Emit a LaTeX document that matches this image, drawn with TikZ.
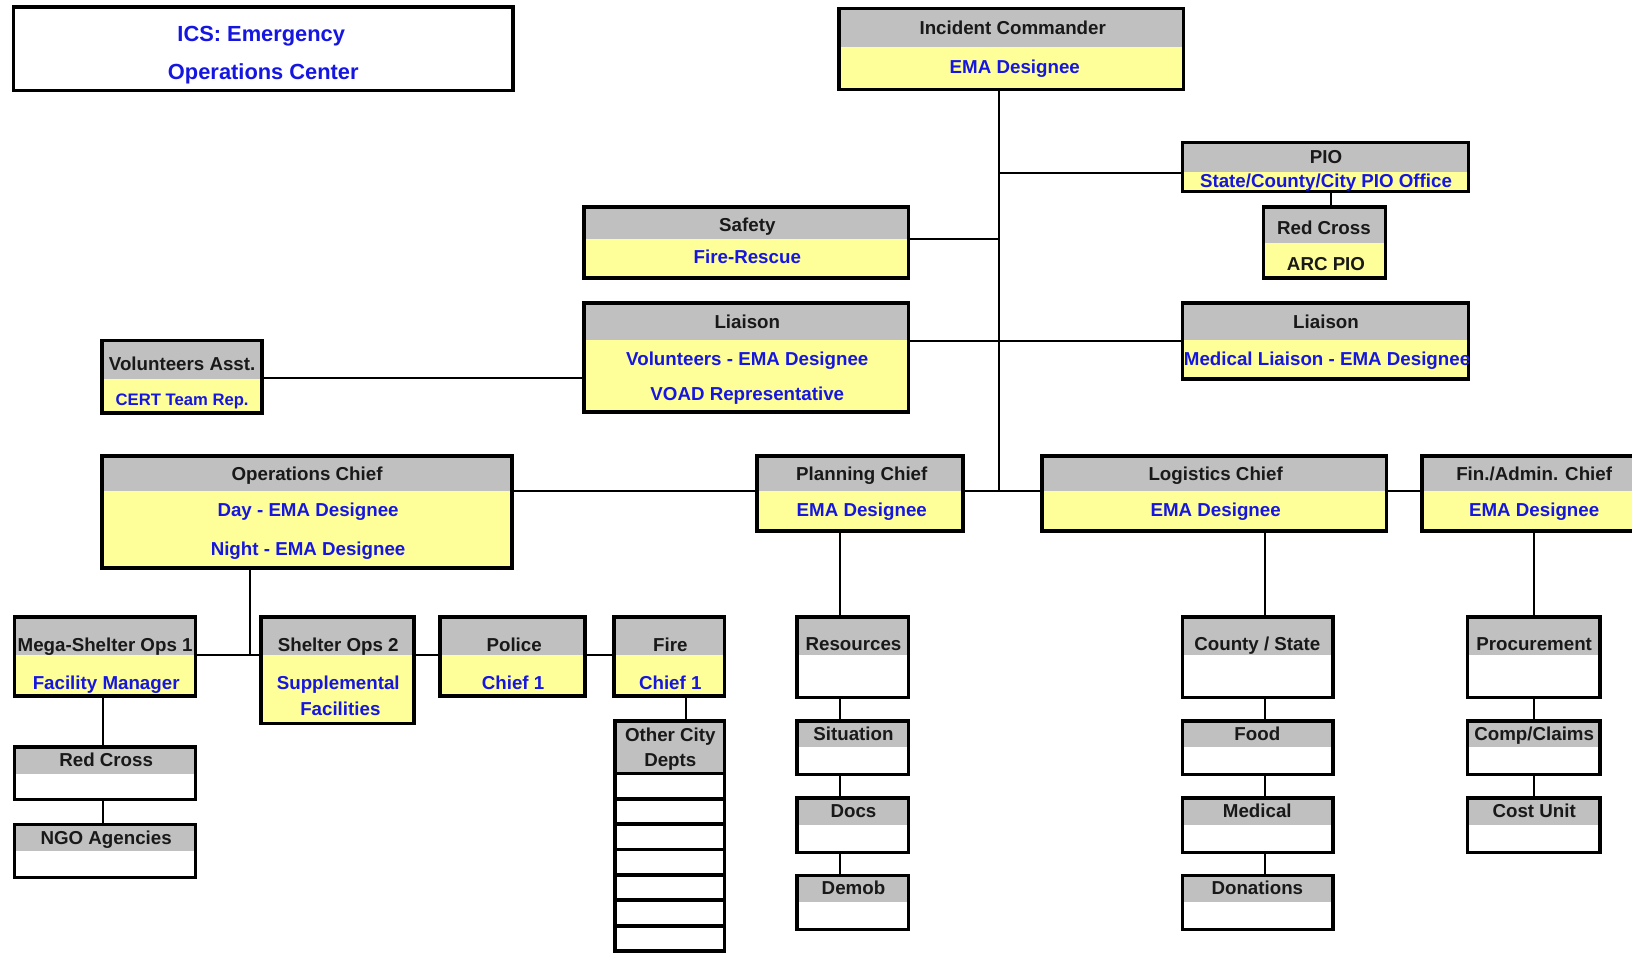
\documentclass[tikz,border=0pt]{standalone}
\usepackage{fontspec}
\setmainfont{Liberation Sans}
\definecolor{icsblue}{RGB}{22,22,225}
\definecolor{hdrgray}{RGB}{192,192,192}
\definecolor{paleyellow}{RGB}{255,255,153}
\definecolor{titleblack}{RGB}{25,25,25}
\tikzset{
  bx/.style={draw=black, line width=3.5pt, rectangle, inner sep=0pt},
  conn/.style={draw=black, line width=2pt},
  tt/.style={inner sep=0pt, text height=13pt, text depth=0pt, text=titleblack, font=\fontsize{18}{20}\selectfont\bfseries},
  bt/.style={tt, text=icsblue, font=\fontsize{18}{20}\selectfont\bfseries},
}
% name, x1, y1, x2, y2, split, lower fill
\newcommand\orgbox[7]{%
  \fill[hdrgray] (#2,-#3) rectangle (#4,-#6);
  \fill[#7] (#2,-#6) rectangle (#4,-#5);
  \node[bx, minimum width=#4-#2, minimum height=#5-#3] (#1) at ({(#2+#4)/2},{-(#3+#5)/2}) {};
}
\begin{document}
\begin{tikzpicture}[x=1pt,y=1pt]
\useasboundingbox (0,0) rectangle (1568,-916);
\clip (0,0) rectangle (1568,-916);
\fill[white] (0,0) rectangle (1568,-916);

% junction coordinates
\coordinate (trunk) at (960,-472);
\coordinate (jpio) at (960,-166);
\coordinate (jsafe) at (960,-230);
\coordinate (jlia) at (960,-328);
\coordinate (jvol) at (252,-363);
\coordinate (jops) at (240,-629);
\coordinate (xrcp) at (1279,0);
\coordinate (xmega) at (99,0);
\coordinate (xfire) at (659,0);
\coordinate (xplan) at (807,0);
\coordinate (xlog) at (1215,0);
\coordinate (xfin) at (1474,0);

% boxes
\node[bx, fill=white, minimum width=480, minimum height=80] (ics) at (253,-47) {};
\orgbox{ic}{806}{8}{1137}{86}{45}{paleyellow}
\orgbox{pio}{1136}{137}{1411}{184}{165}{paleyellow}
\orgbox{rcp}{1214}{199}{1331}{267}{233}{paleyellow}
\orgbox{safety}{561}{199}{873}{267}{230}{paleyellow}
\orgbox{liaL}{561}{291}{873}{396}{327}{paleyellow}
\orgbox{liaR}{1136}{291}{1411}{364}{327}{paleyellow}
\orgbox{vol}{98}{327}{252}{397}{364}{paleyellow}
\orgbox{ops}{98}{438}{492}{546}{472}{paleyellow}
\orgbox{plan}{727}{438}{925}{510}{472}{paleyellow}
\orgbox{log}{1001}{438}{1332}{510}{472}{paleyellow}
\orgbox{fin}{1366}{438}{1584}{510}{472}{paleyellow}
\orgbox{mega}{14}{593}{188}{669}{629}{paleyellow}
\orgbox{shtwo}{251}{593}{398}{695}{629}{paleyellow}
\orgbox{police}{423}{593}{562}{669}{629}{paleyellow}
\orgbox{fire}{590}{593}{696}{669}{629}{paleyellow}
\orgbox{rctwo}{14}{718}{188}{768}{744}{white}
\orgbox{ngo}{14}{792}{188}{843}{818}{white}
\orgbox{ocd}{591}{693}{696}{743}{743}{white}
\foreach \i in {1,...,7}{
  \pgfmathsetmacro\ya{743+(\i-1)*24.4}
  \pgfmathsetmacro\yb{743+\i*24.4}
  \node[bx, fill=white, minimum width=105, minimum height=24.4] (ocd\i) at (643.5,{-(\ya+\yb)/2}) {};
}
\orgbox{res}{766}{593}{873}{670}{629}{white}
\orgbox{sit}{766}{693}{873}{744}{718}{white}
\orgbox{docs}{766}{767}{873}{819}{793}{white}
\orgbox{demob}{766}{841}{873}{893}{867}{white}
\orgbox{cs}{1136}{593}{1281}{670}{629}{white}
\orgbox{food}{1136}{693}{1281}{744}{718}{white}
\orgbox{med}{1136}{767}{1281}{819}{793}{white}
\orgbox{don}{1136}{841}{1281}{893}{867}{white}
\orgbox{proc}{1410}{593}{1537}{670}{629}{white}
\orgbox{comp}{1410}{693}{1537}{744}{718}{white}
\orgbox{cost}{1410}{767}{1537}{819}{793}{white}

% connectors
\draw[conn] (ic.south -| trunk) -- (trunk);
\draw[conn] (jpio) -- (jpio -| pio.west);
\draw[conn] (xrcp |- pio.south) -- (xrcp |- rcp.north);
\draw[conn] (jsafe) -- (jsafe -| safety.east);
\draw[conn] (liaL.east |- jlia) -- (liaR.west |- jlia);
\draw[conn] (jvol -| vol.east) -- (jvol -| liaL.west);
\draw[conn] (ops.east |- trunk) -- (plan.west |- trunk);
\draw[conn] (plan.east |- trunk) -- (log.west |- trunk);
\draw[conn] (log.east |- trunk) -- (fin.west |- trunk);
\draw[conn] (jops |- ops.south) -- (jops);
\draw[conn] (mega.east |- jops) -- (shtwo.west |- jops);
\draw[conn] (shtwo.east |- jops) -- (police.west |- jops);
\draw[conn] (police.east |- jops) -- (fire.west |- jops);
\draw[conn] (xmega |- mega.south) -- (xmega |- rctwo.north);
\draw[conn] (xmega |- rctwo.south) -- (xmega |- ngo.north);
\draw[conn] (xfire |- fire.south) -- (xfire |- ocd.north);
\draw[conn] (xplan |- plan.south) -- (xplan |- res.north);
\draw[conn] (xplan |- res.south) -- (xplan |- sit.north);
\draw[conn] (xplan |- sit.south) -- (xplan |- docs.north);
\draw[conn] (xplan |- docs.south) -- (xplan |- demob.north);
\draw[conn] (xlog |- log.south) -- (xlog |- cs.north);
\draw[conn] (xlog |- cs.south) -- (xlog |- food.north);
\draw[conn] (xlog |- food.south) -- (xlog |- med.north);
\draw[conn] (xlog |- med.south) -- (xlog |- don.north);
\draw[conn] (xfin |- fin.south) -- (xfin |- proc.north);
\draw[conn] (xfin |- proc.south) -- (xfin |- comp.north);
\draw[conn] (xfin |- comp.south) -- (xfin |- cost.north);

% texts
\node[bt, font=\fontsize{21}{24}\selectfont\bfseries, text height=15pt] (icsa) at (251,-32) {ICS: Emergency};
\node[bt, font=\fontsize{21}{24}\selectfont\bfseries, text height=15pt] (icsb) at (253,-69) {Operations Center};
\node[tt] (ica) at (973,-27) {Incident Commander};
\node[bt] (icb) at (975,-64) {EMA Designee};
\node[tt] (pioa) at (1274,-151) {PIO};
\node[bt] (piob) at (1274,-174) {State/County/City PIO Office};
\node[tt] (rcpa) at (1272,-219) {Red Cross};
\node[tt] (rcpb) at (1274,-253) {ARC PIO};
\node[tt] (safa) at (718,-216) {Safety};
\node[bt] (safb) at (718,-247) {Fire-Rescue};
\node[tt] (liala) at (718,-309) {Liaison};
\node[bt] (lialb) at (718,-345) {Volunteers - EMA Designee};
\node[bt] (lialc) at (718,-378) {VOAD Representative};
\node[tt] (liara) at (1274,-309) {Liaison};
\node[bt] (liarb) at (1275,-345) {Medical Liaison - EMA Designee};
\node[tt] (vola) at (175,-349) {Volunteers Asst.};
\node[bt, font=\fontsize{16}{18}\selectfont\bfseries, text height=11.5pt] (volb) at (175,-384) {CERT Team Rep.};
\node[tt] (opsa) at (295,-455) {Operations Chief};
\node[bt] (opsb) at (296,-490) {Day - EMA Designee};
\node[bt] (opsc) at (296,-527) {Night - EMA Designee};
\node[tt] (plana) at (828,-455) {Planning Chief};
\node[bt] (planb) at (828,-490) {EMA Designee};
\node[tt] (loga) at (1168,-455) {Logistics Chief};
\node[bt] (logb) at (1168,-490) {EMA Designee};
\node[tt] (fina) at (1474,-455) {Fin./Admin. Chief};
\node[bt] (finb) at (1474,-490) {EMA Designee};
\node[tt] (megaa) at (101,-619) {Mega-Shelter Ops 1};
\node[bt] (megab) at (102,-656) {Facility Manager};
\node[tt] (shtwoa) at (325,-619) {Shelter Ops 2};
\node[bt] (shtwob) at (325,-656) {Supplemental};
\node[bt] (shtwoc) at (327,-681) {Facilities};
\node[tt] (policea) at (494,-619) {Police};
\node[bt] (policeb) at (493,-656) {Chief 1};
\node[tt] (firea) at (644,-619) {Fire};
\node[bt] (fireb) at (644,-656) {Chief 1};
\node[tt] (rctwoa) at (102,-730) {Red Cross};
\node[tt] (ngoa) at (102,-805) {NGO Agencies};
\node[tt] (ocda) at (644,-706) {Other City};
\node[tt] (ocdb) at (644,-730) {Depts};
\node[tt] (resa) at (820,-618) {Resources};
\node[tt] (sita) at (820,-705) {Situation};
\node[tt] (docsa) at (820,-779) {Docs};
\node[tt] (demoba) at (820,-853) {Demob};
\node[tt] (csa) at (1208,-618) {County / State};
\node[tt] (fooda) at (1208,-705) {Food};
\node[tt] (meda) at (1208,-779) {Medical};
\node[tt] (dona) at (1208,-853) {Donations};
\node[tt] (proca) at (1474,-618) {Procurement};
\node[tt] (compa) at (1474,-705) {Comp/Claims};
\node[tt] (costa) at (1474,-779) {Cost Unit};
\end{tikzpicture}
\end{document}
